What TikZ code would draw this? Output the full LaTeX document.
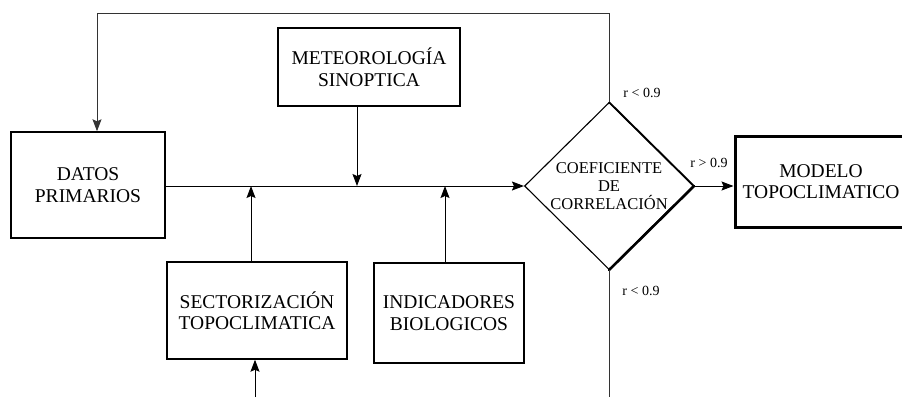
\documentclass[tikz,border=0pt]{standalone}
\usepackage{fontspec}
\setmainfont{Liberation Serif}
\usetikzlibrary{arrows.meta,shapes.geometric}

\tikzset{
  boxtxt/.style={font=\fontsize{19.5}{21.5}\selectfont, align=center},
  procbox/.style={draw, line width=1.4pt, rectangle, inner sep=0pt, boxtxt},
  finalbox/.style={draw, line width=3pt, rectangle, inner sep=0pt, boxtxt},
  decision/.style={draw, line width=1.1pt, diamond, inner sep=0pt,
    font=\fontsize{16.5}{18}\selectfont, align=center},
  cond/.style={font=\fontsize{14}{16}\selectfont, inner sep=0pt},
  arr/.style={line width=1pt, -{Stealth[length=12pt,width=9pt,inset=2pt]}},
  wire/.style={line width=1pt, black!80},
}

\begin{document}
\begin{tikzpicture}[x=1pt,y=-1pt]
\useasboundingbox (0,0) rectangle (902,397);

% blocks
\node[procbox, minimum width=154pt, minimum height=106pt] (datos) at (88,185)
  {DATOS\\PRIMARIOS};
\node[procbox, minimum width=182pt, minimum height=78pt] (meteo) at (369,67)
  {METEOROLOGÍA\\SINOPTICA};
\node[procbox, minimum width=180pt, minimum height=97pt] (sector) at (257,310.5)
  {SECTORIZACIÓN\\TOPOCLIMATICA};
\node[procbox, minimum width=150pt, minimum height=100pt] (indic) at (449,313)
  {INDICADORES\\BIOLOGICOS};
\node[decision, minimum width=169pt, minimum height=167pt] (coef) at (609,186)
  {COEFICIENTE\\DE\\CORRELACIÓN};
\draw[line width=1.6pt] (coef.north) -- (coef.east);
\draw[line width=2.6pt, line cap=round] (coef.east) -- (coef.south);
\node[finalbox, minimum width=172pt, minimum height=91pt] (modelo) at (821,181.5)
  {MODELO\\TOPOCLIMATICO};

% free ends and corner of the feedback loop
\coordinate (loop) at (97,13);
\coordinate (sin) at (255,397);
\coordinate (sout) at (611,397);

% main flow line into the correlation test
\draw[arr] (meteo.south -| 357,0) -- (357,0 |- coef.west);
\draw[arr] (datos.east |- coef.west) -- (coef.west);
\draw[arr] ([xshift=-6pt]sector.north) -- ([xshift=-6pt]sector.north |- coef.west);
\draw[arr] ([xshift=-4pt]indic.north) -- ([xshift=-4pt]indic.north |- coef.west);
\draw[arr] (sin) -- (sin |- sector.south);

% outcomes of the test
\draw[arr] (coef.east) -- (coef.east -| modelo.west);
\draw[wire, -{Stealth[length=12pt,width=9pt,inset=2pt]}]
  (coef.north) |- (loop) -- (loop |- datos.north);
\draw[wire] (coef.south) -- (coef.south |- sout);

% conditions
\node[cond] (c1) at (642,93) {r < 0.9};
\node[cond] (c2) at (709,163) {r > 0.9};
\node[cond] (c3) at (641,291) {r < 0.9};
\end{tikzpicture}
\end{document}
